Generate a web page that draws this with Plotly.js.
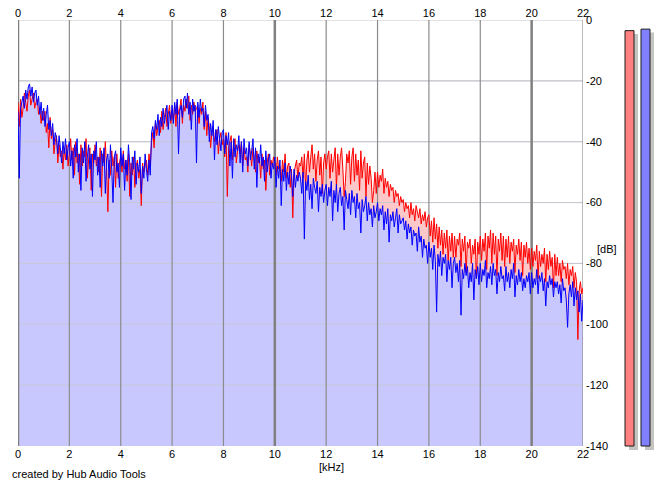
<!DOCTYPE html>
<html>
<head>
<meta charset="utf-8">
<script src="https://cdn.plot.ly/plotly-3.0.1.min.js"></script>
<style>
    html, body { margin: 0; padding: 0; background: #ffffff; }
    #spectrum { width: 665px; height: 487px; }
</style>
</head>
<body>
<div id="spectrum"></div>
<script>
// Spectrum bins, one value every 0.05 kHz from 0 to 22 kHz (dB), one row per kHz
const binKHz = 0.05;

const channelLeft = [
    -27, -35, -26, -32, -29, -24, -27, -30, -25, -23, -28, -26, -24, -29, -27, -26, -31, -29, -34, -30,
    -33, -30, -37, -34, -42, -32, -39, -36, -44, -40, -38, -47, -41, -45, -43, -49, -42, -46, -41, -48,
    -44, -39, -46, -42, -51, -40, -47, -44, -54, -41, -48, -43, -45, -39, -52, -46, -42, -56, -44, -47,
    -41, -48, -45, -50, -42, -58, -44, -47, -40, -49, -63, -46, -51, -43, -48, -45, -55, -44, -52, -47,
    -45, -50, -43, -49, -46, -53, -44, -58, -47, -51, -45, -55, -48, -46, -52, -49, -61, -47, -50, -48,
    -46, -51, -44, -48, -40, -37, -42, -34, -38, -35, -33, -37, -30, -36, -32, -29, -35, -31, -28, -34,
    -30, -33, -28, -35, -27, -31, -29, -26, -34, -28, -30, -26, -29, -25, -33, -28, -31, -27, -30, -29,
    -28, -34, -29, -31, -27, -36, -30, -38, -32, -35, -42, -37, -35, -40, -38, -36, -44, -39, -37, -41,
    -39, -45, -37, -58, -42, -40, -38, -46, -41, -39, -47, -43, -41, -44, -40, -48, -42, -46, -45, -50,
    -41, -44, -48, -42, -46, -50, -43, -47, -45, -52, -44, -49, -46, -56, -47, -44, -51, -46, -48, -45,
    -47, -51, -45, -49, -48, -53, -46, -50, -44, -52, -48, -47, -55, -49, -65, -50, -48, -46, -52, -47,
    -48, -45, -52, -44, -55, -46, -43, -50, -45, -41, -49, -44, -53, -46, -43, -51, -45, -57, -47, -44,
    -49, -45, -43, -52, -44, -50, -46, -42, -55, -44, -51, -45, -42, -49, -58, -53, -44, -47, -43, -54,
    -45, -42, -53, -44, -51, -46, -56, -43, -52, -47, -45, -58, -47, -54, -48, -52, -60, -56, -50, -57,
    -50, -55, -51, -53, -49, -57, -52, -55, -53, -58, -54, -56, -55, -60, -56, -58, -57, -61, -58, -60,
    -59, -63, -60, -62, -61, -65, -60, -64, -62, -66, -61, -63, -65, -62, -67, -64, -66, -63, -68, -65,
    -64, -71, -66, -73, -65, -72, -67, -75, -68, -74, -69, -77, -70, -75, -69, -79, -71, -76, -70, -78,
    -71, -78, -72, -74, -70, -81, -72, -76, -71, -83, -73, -75, -72, -80, -74, -77, -72, -85, -73, -77,
    -71, -79, -72, -76, -70, -82, -71, -75, -69, -80, -70, -77, -71, -84, -72, -76, -70, -79, -71, -81,
    -72, -78, -71, -80, -73, -76, -72, -83, -74, -77, -72, -79, -73, -84, -74, -78, -73, -80, -75, -82,
    -75, -81, -76, -79, -74, -85, -76, -81, -77, -80, -75, -86, -77, -82, -76, -81, -78, -88, -77, -84,
    -78, -84, -80, -86, -79, -82, -81, -85, -80, -87, -82, -84, -81, -88, -83, -86, -105, -89, -86, -90,
    -88
];

const channelRight = [
    -30, -52, -29, -27, -25, -29, -23, -26, -22, -21, -25, -22, -27, -24, -23, -28, -25, -31, -27, -33,
    -29, -35, -31, -28, -36, -33, -38, -34, -41, -37, -39, -44, -38, -42, -47, -40, -44, -39, -46, -42,
    -40, -48, -43, -52, -41, -45, -39, -50, -44, -56, -42, -47, -40, -53, -45, -41, -49, -44, -58, -43,
    -46, -40, -51, -45, -55, -43, -48, -42, -57, -46, -44, -52, -41, -49, -60, -45, -43, -50, -47, -55,
    -42, -48, -44, -56, -46, -51, -41, -47, -59, -45, -49, -43, -54, -47, -50, -45, -57, -48, -52, -44,
    -49, -53, -46, -51, -37, -35, -39, -33, -36, -31, -38, -32, -35, -29, -34, -31, -28, -36, -30, -33,
    -28, -34, -27, -31, -26, -44, -30, -28, -32, -26, -25, -29, -24, -31, -27, -36, -26, -30, -28, -47,
    -27, -32, -26, -30, -29, -35, -28, -33, -31, -40, -34, -38, -33, -46, -36, -41, -35, -39, -43, -37,
    -36, -44, -38, -41, -37, -48, -40, -52, -39, -45, -41, -43, -38, -47, -40, -50, -39, -44, -42, -48,
    -40, -46, -43, -39, -49, -42, -55, -44, -47, -41, -48, -45, -53, -43, -50, -46, -44, -52, -47, -49,
    -45, -55, -48, -52, -46, -61, -49, -53, -47, -56, -50, -54, -48, -51, -58, -49, -55, -51, -53, -50,
    -52, -57, -50, -72, -53, -56, -51, -59, -54, -62, -52, -55, -57, -53, -63, -55, -58, -54, -60, -56,
    -54, -61, -55, -58, -53, -66, -56, -60, -54, -63, -57, -55, -61, -58, -69, -56, -59, -62, -57, -64,
    -56, -60, -58, -65, -57, -62, -60, -70, -59, -63, -61, -58, -66, -60, -64, -62, -68, -61, -65, -63,
    -60, -66, -62, -64, -61, -69, -63, -67, -62, -73, -64, -66, -63, -68, -65, -62, -70, -64, -67, -66,
    -65, -69, -66, -72, -67, -70, -68, -74, -69, -71, -70, -76, -68, -73, -71, -78, -72, -75, -74, -80,
    -73, -78, -75, -82, -74, -79, -96, -77, -81, -76, -84, -78, -80, -77, -86, -79, -82, -78, -88, -80,
    -78, -83, -80, -86, -79, -97, -82, -85, -80, -84, -81, -88, -83, -86, -80, -92, -82, -85, -81, -87,
    -80, -86, -82, -84, -79, -88, -83, -85, -81, -87, -80, -84, -82, -90, -83, -86, -81, -85, -84, -89,
    -81, -86, -83, -88, -82, -85, -80, -91, -84, -87, -82, -86, -83, -89, -85, -88, -84, -86, -83, -90,
    -83, -88, -85, -87, -82, -90, -84, -86, -83, -89, -85, -94, -86, -88, -84, -87, -85, -91, -86, -88,
    -86, -90, -87, -93, -85, -89, -88, -92, -101, -90, -87, -91, -86, -94, -88, -92, -89, -96, -90, -99,
    -92
];

// Peak meters (dB)
const meterLevels = [-3.5, -3.0];
const meterColors = ['#ff8080', '#8080ff'];

// Axis ticks
const xTickVals = [0, 2, 4, 6, 8, 10, 12, 14, 16, 18, 20, 22];
const xMajorVals = [0, 10, 20];
const yTickVals = [0, -20, -40, -60, -80, -100, -120, -140];
const yTickText = ['0', '-20', '-40', '-60', '-80', '-100', '-120', '-140'];

const dbFloor = -140;
const shadowFloor = -141.31;
const fontFamily = 'Liberation Sans, Arial, sans-serif';

const freqs = channelRight.map((_, i) => +(i * binKHz).toFixed(2));
const lastFreq = freqs[freqs.length - 1];

// Closed polygon down to the floor for the filled areas
function areaTrace(values, color) {
    return {
        x: freqs.concat([lastFreq, 0]),
        y: values.concat([dbFloor, dbFloor]),
        type: 'scatter',
        mode: 'lines',
        fill: 'toself',
        fillcolor: color,
        line: { width: 0, color: color },
        hoverinfo: 'skip',
        showlegend: false
    };
}

function lineTrace(values, color) {
    return {
        x: freqs,
        y: values,
        type: 'scatter',
        mode: 'lines',
        line: { width: 1, color: color, simplify: false },
        hoverinfo: 'skip',
        showlegend: false
    };
}

// Grid drawn as traces so it sits over the fill but under the curves
function verticalGrid(vals, width, color) {
    return {
        x: vals.flatMap(v => [v, v, null]),
        y: vals.flatMap(() => [dbFloor, 0, null]),
        type: 'scatter',
        mode: 'lines',
        line: { width: width, color: color },
        hoverinfo: 'skip',
        showlegend: false
    };
}

function horizontalGrid(vals, width, color) {
    return {
        x: vals.flatMap(() => [0, lastFreq, null]),
        y: vals.flatMap(v => [v, v, null]),
        type: 'scatter',
        mode: 'lines',
        line: { width: width, color: color },
        hoverinfo: 'skip',
        showlegend: false
    };
}

const minorVals = xTickVals.filter(v => !xMajorVals.includes(v));

const traces = [
    horizontalGrid(yTickVals.slice(0, -1), 1, '#c8c8c8'),
    areaTrace(channelLeft, '#ffc8c8'),
    areaTrace(channelRight, '#c8c8ff'),
    horizontalGrid(yTickVals.slice(1, -1), 1, '#c8c8d4'),
    verticalGrid(minorVals, 1.2, '#8c8c8c'),
    verticalGrid(xMajorVals, 2.5, '#808080'),
    lineTrace(channelLeft, '#ff0000'),
    lineTrace(channelRight, '#0000ff'),
    // empty trace so the top tick axis gets drawn
    { x: [], y: [], type: 'scatter', xaxis: 'x3', yaxis: 'y', showlegend: false, hoverinfo: 'skip' },
    // meter shadows
    {
        x: [0, 1],
        y: meterLevels.map(v => v - 1.1 - shadowFloor),
        base: shadowFloor,
        type: 'bar',
        width: 0.5625,
        offset: -0.03125,
        marker: { color: '#c4c4c0', line: { width: 0 } },
        xaxis: 'x2',
        yaxis: 'y2',
        hoverinfo: 'skip',
        showlegend: false
    },
    // meters
    {
        x: [0, 1],
        y: meterLevels.map(v => v - dbFloor),
        base: dbFloor,
        type: 'bar',
        width: 0.5625,
        marker: { color: meterColors, line: { width: 1, color: '#1a1a1a' } },
        xaxis: 'x2',
        yaxis: 'y2',
        hoverinfo: 'skip',
        showlegend: false
    }
];

const tickFont = { family: fontFamily, size: 11, color: '#000000' };

const layout = {
    width: 665,
    height: 487,
    margin: { l: 18, r: 5, t: 20, b: 37 },
    paper_bgcolor: '#ffffff',
    plot_bgcolor: '#ffffff',
    showlegend: false,
    barmode: 'overlay',
    font: { family: fontFamily, size: 11, color: '#000000' },
    xaxis: {
        domain: [0, 0.88006],
        range: [0, 22],
        tickvals: xTickVals,
        ticks: '',
        showgrid: false,
        zeroline: false,
        showline: false,
        tickfont: tickFont,
        fixedrange: true
    },
    xaxis3: {
        overlaying: 'x',
        side: 'top',
        anchor: 'y',
        range: [0, 22],
        tickvals: xTickVals,
        ticks: '',
        showgrid: false,
        zeroline: false,
        showline: false,
        tickfont: tickFont,
        fixedrange: true
    },
    yaxis: {
        domain: [4 / 430, 1],
        range: [dbFloor, 0],
        side: 'right',
        tickvals: yTickVals,
        ticktext: yTickText,
        ticks: '',
        ticklabelstandoff: 2,
        showgrid: false,
        zeroline: false,
        showline: false,
        tickfont: tickFont,
        fixedrange: true
    },
    xaxis2: {
        domain: [0.9377, 1],
        range: [-0.594, 1.906],
        anchor: 'y2',
        visible: false,
        fixedrange: true
    },
    yaxis2: {
        domain: [0, 1],
        range: [shadowFloor, 0],
        anchor: 'x2',
        visible: false,
        fixedrange: true
    },
    annotations: [
        {
            text: '[dB]', xref: 'paper', yref: 'paper',
            x: 0.9174, y: 0.4674, xanchor: 'center', yanchor: 'middle',
            showarrow: false, font: tickFont
        },
        {
            text: '[kHz]', xref: 'paper', yref: 'paper',
            x: 0.4883, y: -0.0395, xanchor: 'center', yanchor: 'middle',
            showarrow: false, font: tickFont
        },
        {
            text: 'created by Hub Audio Tools', xref: 'paper', yref: 'paper',
            x: -0.01246, y: -0.0558, xanchor: 'left', yanchor: 'middle',
            showarrow: false, font: tickFont
        }
    ]
};

const config = { displayModeBar: false, staticPlot: true };

Plotly.newPlot('spectrum', traces, layout, config);
</script>
</body>
</html>
